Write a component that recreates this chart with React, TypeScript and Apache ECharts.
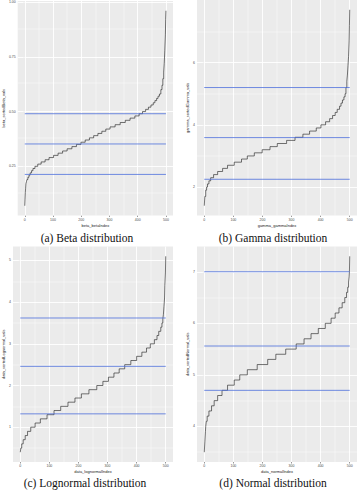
import React, { useEffect, useRef } from "react";
import * as echarts from "echarts";

// ---- shared x axis (sample index) ----
const xBreaks = [0, 100, 200, 300, 400, 500];
const xTickLabels = ["0", "100", "200", "300", "400", "500"];
const xMinor = [50, 150, 250, 350, 450];

// ---- (a) Beta ----
const betaValues = [0.07, 0.1, 0.13, 0.15, 0.17, 0.18, 0.19, 0.2, 0.21, 0.22, 0.23, 0.24, 0.25, 0.26, 0.27, 0.28, 0.29, 0.3, 0.31, 0.32, 0.33, 0.34, 0.35, 0.36, 0.37, 0.38, 0.39, 0.4, 0.41, 0.42, 0.43, 0.44, 0.45, 0.46, 0.47, 0.48, 0.49, 0.5, 0.51, 0.52, 0.53, 0.54, 0.55, 0.56, 0.57, 0.58, 0.6, 0.62, 0.65, 0.68, 0.72, 0.78, 0.85, 0.92, 0.96];
const betaStarts = [0, 1, 2, 3, 4, 6, 8, 11, 15, 19, 24, 29, 36, 46, 58, 72, 86, 102, 118, 134, 150, 167, 183, 199, 214, 229, 244, 259, 273, 287, 302, 320, 338, 356, 373, 390, 405, 417, 428, 438, 447, 455, 461, 467, 472, 477, 482, 486, 489, 492, 494, 496, 498, 499, 500];
const betaLines = [0.213, 0.352, 0.49];
const betaBreaks = [0.25, 0.5, 0.75, 1.0];
const betaTickLabels = ["0.25", "0.50", "0.75", "1.00"];
const betaMinor = [0.125, 0.375, 0.625, 0.875];

// ---- (b) Gamma ----
const gammaValues = [1.4, 1.7, 1.9, 2.0, 2.1, 2.2, 2.3, 2.4, 2.5, 2.6, 2.7, 2.8, 2.9, 3.0, 3.1, 3.2, 3.3, 3.4, 3.5, 3.6, 3.7, 3.8, 3.9, 4.0, 4.1, 4.2, 4.3, 4.4, 4.5, 4.6, 4.7, 4.8, 4.9, 5.0, 5.2, 5.4, 5.6, 5.9, 6.2, 6.7, 7.2, 7.7];
const gammaStarts = [0, 2, 5, 8, 11, 16, 22, 32, 46, 63, 80, 103, 128, 148, 172, 199, 226, 251, 283, 312, 339, 362, 385, 401, 417, 431, 441, 450, 457, 465, 470, 475, 480, 484, 487, 490, 492, 494, 496, 498, 499, 500];
const gammaLines = [2.25, 3.59, 5.2];
const gammaBreaks = [2, 4, 6];
const gammaTickLabels = ["2", "4", "6"];
const gammaMinor = [3, 5, 7];

// ---- (c) Lognormal ----
const lognormValues = [0.4, 0.5, 0.6, 0.7, 0.8, 0.9, 1.0, 1.1, 1.2, 1.3, 1.4, 1.5, 1.6, 1.7, 1.8, 1.9, 2.0, 2.1, 2.2, 2.3, 2.4, 2.5, 2.6, 2.7, 2.8, 2.9, 3.0, 3.1, 3.2, 3.3, 3.4, 3.5, 3.6, 3.7, 3.9, 4.1, 4.4, 4.7, 5.1];
const lognormStarts = [0, 2, 5, 10, 17, 25, 36, 51, 69, 92, 116, 139, 164, 188, 210, 236, 263, 284, 303, 322, 340, 359, 380, 400, 418, 434, 447, 461, 470, 476, 483, 487, 490, 492, 494, 496, 497, 499, 500];
const lognormLines = [1.32, 2.46, 3.62];
const lognormBreaks = [1, 2, 3, 4, 5];
const lognormTickLabels = ["1", "2", "3", "4", "5"];
const lognormMinor = [0.5, 1.5, 2.5, 3.5, 4.5];

// ---- (d) Normal ----
const normValues = [3.5, 3.7, 3.9, 4.0, 4.1, 4.2, 4.3, 4.4, 4.5, 4.6, 4.7, 4.8, 4.9, 5.0, 5.1, 5.2, 5.3, 5.4, 5.5, 5.6, 5.7, 5.8, 5.9, 6.0, 6.1, 6.2, 6.3, 6.4, 6.5, 6.6, 6.7, 6.8, 6.9, 7.0, 7.3];
const normStarts = [0, 2, 4, 5, 7, 10, 16, 25, 34, 46, 61, 80, 103, 122, 148, 182, 218, 246, 280, 316, 343, 367, 392, 416, 436, 450, 463, 474, 483, 489, 493, 496, 498, 499, 500];
const normLines = [4.7, 5.56, 7.0];
const normBreaks = [4, 5, 6, 7];
const normTickLabels = ["4", "5", "6", "7"];
const normMinor = [3.5, 4.5, 5.5, 6.5];

const panels = [
  { values: betaValues, starts: betaStarts, lines: betaLines, yBreaks: betaBreaks, yLabels: betaTickLabels, yMinor: betaMinor, xName: "beta_betaIndex", yName: "beta_sortedBeta_vals", caption: "(a) Beta distribution" },
  { values: gammaValues, starts: gammaStarts, lines: gammaLines, yBreaks: gammaBreaks, yLabels: gammaTickLabels, yMinor: gammaMinor, xName: "gamma_gammaIndex", yName: "gamma_sortedGamma_vals", caption: "(b) Gamma distribution" },
  { values: lognormValues, starts: lognormStarts, lines: lognormLines, yBreaks: lognormBreaks, yLabels: lognormTickLabels, yMinor: lognormMinor, xName: "data_lognormalIndex", yName: "data_sortedLognormal_vals", caption: "(c) Lognormal distribution" },
  { values: normValues, starts: normStarts, lines: normLines, yBreaks: normBreaks, yLabels: normTickLabels, yMinor: normMinor, xName: "data_normalIndex", yName: "data_sortedNormal_vals", caption: "(d) Normal distribution" },
];

const layout = [
  { left: 11.5, top: 0, width: 161.5, height: 215.5, capX: 87, capY: 238 },
  { left: 197, top: 0, width: 160, height: 215.5, capX: 273, capY: 238 },
  { left: 11.5, top: 246.5, width: 161.5, height: 215.5, capX: 85, capY: 483 },
  { left: 197, top: 246.5, width: 160, height: 215.5, capX: 273, capY: 483 },
];

const SANS = "Liberation Sans";
const labelFor = (breaks: number[], labels: string[]) => (v: number) => {
  const i = breaks.findIndex((b) => Math.abs(b - v) < 1e-9);
  return i >= 0 ? labels[i] : "";
};

export default function App() {
  const ref = useRef<HTMLDivElement>(null);
  useEffect(() => {
    if (!ref.current) return;
    const chart = echarts.init(ref.current, undefined, { renderer: "svg" });
    const grid: any[] = [];
    const xAxis: any[] = [];
    const yAxis: any[] = [];
    const series: any[] = [];
    const graphic: any[] = [];
    panels.forEach((p, i) => {
      const L = layout[i];
      const xLo = Math.min(...p.starts), xHi = Math.max(...p.starts);
      const yLo = Math.min(...p.values), yHi = Math.max(...p.values);
      const xPad = (xHi - xLo) * 0.05, yPad = (yHi - yLo) * 0.05;
      grid.push({ left: L.left, top: L.top, width: L.width, height: L.height, show: true, backgroundColor: "#EBEBEB", borderWidth: 0 });
      xAxis.push({
        type: "value", gridIndex: i, min: xLo - xPad, max: xHi + xPad,
        axisLine: { show: false },
        axisTick: { show: true, length: 1.5, customValues: xBreaks, lineStyle: { color: "#333", width: 0.5 } },
        axisLabel: { customValues: xBreaks, formatter: labelFor(xBreaks, xTickLabels), fontSize: 3.5, color: "#4D4D4D", margin: 2, fontFamily: SANS },
        splitLine: { show: false },
        name: p.xName, nameLocation: "middle", nameGap: 7.5,
        nameTextStyle: { fontSize: 4, color: "#222", fontFamily: SANS },
      });
      yAxis.push({
        type: "value", gridIndex: i, min: yLo - yPad, max: yHi + yPad,
        axisLine: { show: false },
        axisTick: { show: true, length: 1.5, customValues: p.yBreaks, lineStyle: { color: "#333", width: 0.5 } },
        axisLabel: { customValues: p.yBreaks, formatter: labelFor(p.yBreaks, p.yLabels), fontSize: 3.5, color: "#4D4D4D", margin: 2, fontFamily: SANS },
        splitLine: { show: false },
        name: p.yName, nameLocation: "middle", nameGap: 8,
        nameTextStyle: { fontSize: 4, color: "#222", fontFamily: SANS },
      });
      const minorStyle = { color: "#FFFFFF", width: 0.4, type: "solid" };
      const majorStyle = { color: "#FFFFFF", width: 0.9, type: "solid" };
      series.push({
        type: "line", xAxisIndex: i, yAxisIndex: i, z: 1, silent: true,
        data: [[xLo, yLo]], symbol: "none", lineStyle: { opacity: 0 },
        markLine: {
          z: 1, silent: true, symbol: ["none", "none"], label: { show: false }, animation: false,
          emphasis: { disabled: true },
          data: [
            ...p.yMinor.map((v) => ({ yAxis: v, lineStyle: minorStyle })),
            ...xMinor.map((v) => ({ xAxis: v, lineStyle: minorStyle })),
            ...p.yBreaks.map((v) => ({ yAxis: v, lineStyle: majorStyle })),
            ...xBreaks.map((v) => ({ xAxis: v, lineStyle: majorStyle })),
          ],
        },
      });
      series.push({
        type: "line", xAxisIndex: i, yAxisIndex: i, z: 6, step: "end", symbol: "none", silent: true,
        data: p.starts.map((s, k) => [s, p.values[k]]),
        lineStyle: { color: "#1A1A1A", width: 0.6 },
      });
      p.lines.forEach((v) => {
        series.push({
          type: "line", xAxisIndex: i, yAxisIndex: i, z: 7, symbol: "none", silent: true,
          data: [[xLo, v], [xHi, v]],
          lineStyle: { color: "#4C6FDC", width: 0.8 },
        });
      });
      graphic.push({
        type: "text", x: L.capX, y: L.capY,
        style: { text: p.caption, font: '11.5px "Liberation Serif"', fill: "#111", align: "center", verticalAlign: "middle", textAlign: "center", textVerticalAlign: "middle" },
      });
    });
    chart.setOption({ animation: false, backgroundColor: "#FFFFFF", grid, xAxis, yAxis, series, graphic });
    return () => chart.dispose();
  }, []);
  return <div ref={ref} style={{ position: "absolute", left: 0, top: 0, width: 364, height: 490 }} />;
}
